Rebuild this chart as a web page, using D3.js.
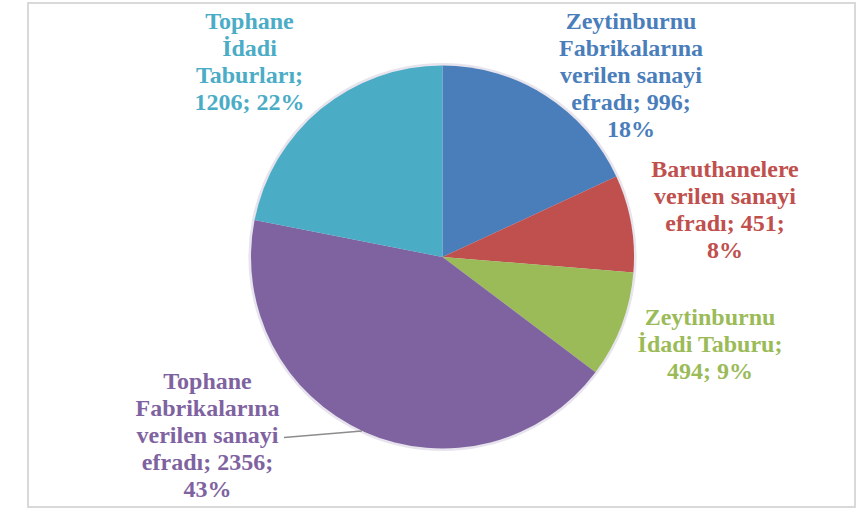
<!DOCTYPE html>
<html>
<head>
<meta charset="utf-8">
<script src="https://cdn.jsdelivr.net/npm/d3@7/dist/d3.min.js"></script>
</head>
<body style="margin:0">
<svg id="chart" width="862" height="510"></svg>
<script>
// Data
const categories = [
  "Zeytinburnu Fabrikalarına verilen sanayi efradı",
  "Baruthanelere verilen sanayi efradı",
  "Zeytinburnu İdadi Taburu",
  "Tophane Fabrikalarına verilen sanayi efradı",
  "Tophane İdadi Taburları"
];
const values = [996, 451, 494, 2356, 1206];
const percentLabels = ["18%", "8%", "9%", "43%", "22%"];
const labelLines = [
  ["Zeytinburnu", "Fabrikalarına", "verilen sanayi", "efradı; 996;", "18%"],
  ["Baruthanelere", "verilen sanayi", "efradı; 451;", "8%"],
  ["Zeytinburnu", "İdadi Taburu;", "494; 9%"],
  ["Tophane", "Fabrikalarına", "verilen sanayi", "efradı; 2356;", "43%"],
  ["Tophane", "İdadi", "Taburları;", "1206; 22%"]
];
const colors = ["#4a7ebb", "#c0504d", "#9bbb59", "#7f63a1", "#4bacc6"];

const svg = d3.select("#chart");

// frame
svg.append("rect")
  .attr("x", 28).attr("y", 3).attr("width", 827).attr("height", 504)
  .attr("fill", "#ffffff").attr("stroke", "#d9d9d9").attr("stroke-width", 2);

const cx = 442.5, cy = 257, r = 191.5;
const pie = d3.pie().sort(null).value(d => d)(values);
const arc = d3.arc().innerRadius(0).outerRadius(r);
const halo = d3.arc().innerRadius(0).outerRadius(r + 2.5);

const g = svg.append("g").attr("transform", `translate(${cx},${cy})`);
// soft edge halo
g.append("path").attr("d", halo({startAngle: 0, endAngle: 2 * Math.PI}))
  .attr("fill", "#c9c3d8").attr("opacity", 0.45);
g.append("g")
  .selectAll("path").data(pie).join("path")
  .attr("d", arc)
  .attr("fill", (d, i) => colors[i]);

// label positions (center x, first baseline)
const labelPos = [
  [631, 29],
  [725, 177],
  [710, 325],
  [207.5, 389],
  [249.5, 29]
];
const lineH = 27;

labelLines.forEach((lines, i) => {
  lines.forEach((ln, j) => {
    svg.append("text")
      .attr("x", labelPos[i][0]).attr("y", labelPos[i][1] + j * lineH)
      .attr("text-anchor", "middle")
      .attr("fill", colors[i])
      .attr("font-family", "Liberation Serif")
      .attr("font-weight", "bold")
      .attr("font-size", 24)
      .text(ln);
  });
});

// leader line for the purple slice
svg.append("line")
  .attr("x1", 284).attr("y1", 437.5)
  .attr("x2", 362).attr("y2", 431)
  .attr("stroke", "#8c8c8c").attr("stroke-width", 1.3);
</script>
</body>
</html>
